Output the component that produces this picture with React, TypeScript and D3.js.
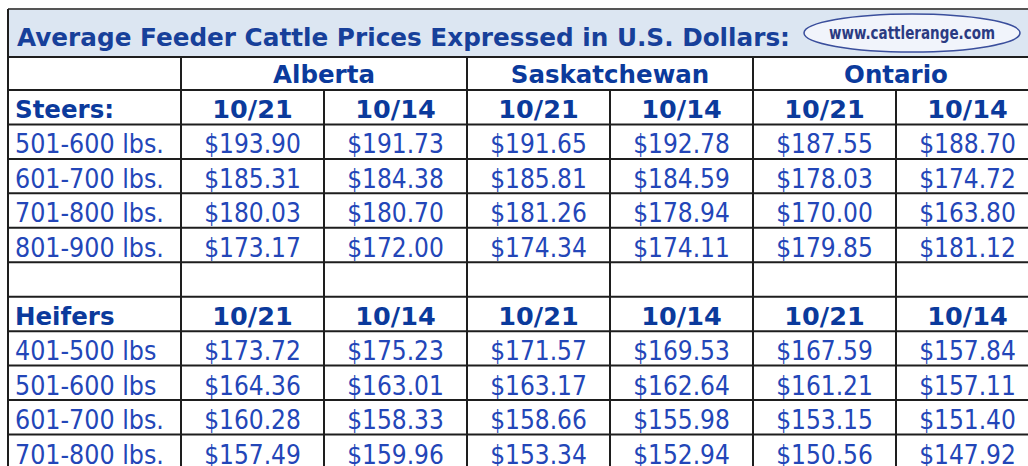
import React, { useEffect, useRef } from 'react';
import * as d3 from 'd3';

const title = 'Average Feeder Cattle Prices Expressed in U.S. Dollars:';
const logoText = 'www.cattlerange.com';
const provinces = ['Alberta', 'Saskatchewan', 'Ontario'];
const weeks = ['10/21', '10/14'];

const steerLabel = 'Steers:';
const steerWeights = ['501-600 lbs.', '601-700 lbs.', '701-800 lbs.', '801-900 lbs.'];
const steerPrices = [
  [193.90, 191.73, 191.65, 192.78, 187.55, 188.70],
  [185.31, 184.38, 185.81, 184.59, 178.03, 174.72],
  [180.03, 180.70, 181.26, 178.94, 170.00, 163.80],
  [173.17, 172.00, 174.34, 174.11, 179.85, 181.12],
];

const heiferLabel = 'Heifers';
const heiferWeights = ['401-500 lbs', '501-600 lbs', '601-700 lbs.', '701-800 lbs.'];
const heiferPrices = [
  [173.72, 175.23, 171.57, 169.53, 167.59, 157.84],
  [164.36, 163.01, 163.17, 162.64, 161.21, 157.11],
  [160.28, 158.33, 158.66, 155.98, 153.15, 151.40],
  [157.49, 159.96, 153.34, 152.94, 150.56, 147.92],
];

const W = 1028;
const H = 466;
const FONT = "'DejaVu Sans Condensed', 'DejaVu Sans', Verdana, sans-serif";
const BOLD_FONT = "'DejaVu Sans', Verdana, sans-serif";
const BOLD_BLUE = '#0b3a9c';
const VALUE_BLUE = '#2346b8';

const App = () => {
  const ref = useRef<SVGSVGElement>(null);

  useEffect(() => {
    const svg = d3.select(ref.current);
    svg.selectAll('*').remove();

    // rows: steers header, 4 steers, blank, heifers header, 4 heifers
    type Row = { kind: 'head' | 'val' | 'blank'; label: string; values?: number[] };
    const rows: Row[] = [
      { kind: 'head', label: steerLabel },
      ...steerWeights.map((w, i) => ({ kind: 'val' as const, label: w, values: steerPrices[i] })),
      { kind: 'blank', label: '' },
      { kind: 'head', label: heiferLabel },
      ...heiferWeights.map((w, i) => ({ kind: 'val' as const, label: w, values: heiferPrices[i] })),
    ];

    const left = 8;
    const right = 1039;
    const top = 9;
    const titleBottom = 57;
    const provBottom = 90;
    const labelRight = 181;

    const y = d3.scaleBand<number>()
      .domain(d3.range(rows.length))
      .range([provBottom, provBottom + 34.45 * rows.length]);

    const x = d3.scaleBand<number>()
      .domain(d3.range(provinces.length * weeks.length))
      .range([labelRight, right]);

    const xp = d3.scaleBand<string>()
      .domain(provinces)
      .range([labelRight, right]);

    // title band
    svg.append('rect')
      .attr('x', left).attr('y', top)
      .attr('width', right - left).attr('height', titleBottom - top)
      .attr('fill', '#dce6f2');

    svg.append('text')
      .attr('x', 17).attr('y', 46)
      .attr('font-family', BOLD_FONT)
      .attr('font-weight', 'bold')
      .attr('font-size', 25)
      .attr('fill', '#17409a')
      .attr('textLength', 773)
      .attr('lengthAdjust', 'spacingAndGlyphs')
      .text(title);

    // logo
    const logo = svg.append('g').attr('transform', 'translate(912,33)');
    logo.append('ellipse')
      .attr('rx', 108).attr('ry', 19)
      .attr('fill', '#f1f4fb')
      .attr('stroke', '#3a4e9c')
      .attr('stroke-width', 1.5);
    logo.append('text')
      .attr('y', 6)
      .attr('text-anchor', 'middle')
      .attr('font-family', FONT)
      .attr('font-weight', 'bold')
      .attr('font-size', 18)
      .attr('fill', '#2b3b82')
      .attr('textLength', 166)
      .attr('lengthAdjust', 'spacingAndGlyphs')
      .text(logoText);

    // province headers
    svg.selectAll('.prov')
      .data(provinces)
      .enter()
      .append('text')
      .attr('class', 'prov')
      .attr('x', d => (xp(d) as number) + xp.bandwidth() / 2)
      .attr('y', 83)
      .attr('text-anchor', 'middle')
      .attr('font-family', BOLD_FONT)
      .attr('font-weight', 'bold')
      .attr('font-size', 24.5)
      .attr('fill', BOLD_BLUE)
      .text(d => d);

    const rowG = svg.selectAll('.row')
      .data(rows)
      .enter()
      .append('g')
      .attr('class', 'row')
      .attr('transform', (_, i) => `translate(0,${y(i)})`);

    // row labels
    rowG.append('text')
      .attr('x', 15)
      .attr('y', d => (d.kind === 'head' ? 28 : 29))
      .attr('font-family', d => (d.kind === 'head' ? BOLD_FONT : FONT))
      .attr('font-weight', d => (d.kind === 'head' ? 'bold' : 'normal'))
      .attr('font-size', d => (d.kind === 'head' ? 24.5 : 26.5))
      .attr('fill', d => (d.kind === 'head' ? BOLD_BLUE : VALUE_BLUE))
      .text(d => d.label);

    // cells
    rowG.each(function (d) {
      if (d.kind === 'blank') return;
      const g = d3.select(this);
      const cells = d.kind === 'head'
        ? d3.range(x.domain().length).map(i => weeks[i % weeks.length])
        : (d.values as number[]).map(v => '$' + d3.format('.2f')(v));
      g.selectAll('.cell')
        .data(cells)
        .enter()
        .append('text')
        .attr('class', 'cell')
        .attr('x', (_, i) => (x(i) as number) + x.bandwidth() / 2)
        .attr('y', d.kind === 'head' ? 28 : 29)
        .attr('text-anchor', 'middle')
        .attr('font-family', d.kind === 'head' ? BOLD_FONT : FONT)
        .attr('font-weight', d.kind === 'head' ? 'bold' : 'normal')
        .attr('font-size', d.kind === 'head' ? 25.5 : 26)
        .attr('fill', d.kind === 'head' ? BOLD_BLUE : VALUE_BLUE)
        .text(c => c);
    });

    // grid lines
    const bottom = y.range()[1];
    const grid = svg.append('g')
      .attr('stroke', '#1e1e1e')
      .attr('stroke-width', 2)
      .attr('fill', 'none');

    const hLines = [titleBottom, provBottom, ...d3.range(1, rows.length + 1).map(i => y(i - 1)! + y.step())];
    grid.selectAll('.h')
      .data(hLines)
      .enter()
      .append('line')
      .attr('x1', left).attr('x2', right)
      .attr('y1', d => d).attr('y2', d => d);

    // outer frame (title top slightly grey)
    grid.append('line')
      .attr('x1', left).attr('x2', right)
      .attr('y1', top).attr('y2', top)
      .attr('stroke', '#555');
    grid.append('line')
      .attr('x1', left).attr('x2', left)
      .attr('y1', top).attr('y2', bottom);

    // vertical lines: label edge + province edges from title bottom, week separators from province row
    const provEdges = [labelRight, ...provinces.slice(1).map(p => xp(p) as number)];
    grid.selectAll('.vp')
      .data(provEdges)
      .enter()
      .append('line')
      .attr('x1', d => d).attr('x2', d => d)
      .attr('y1', titleBottom).attr('y2', bottom);

    const weekEdges = provinces.map(p => (xp(p) as number) + xp.bandwidth() / 2);
    grid.selectAll('.vw')
      .data(weekEdges)
      .enter()
      .append('line')
      .attr('x1', d => d).attr('x2', d => d)
      .attr('y1', provBottom).attr('y2', bottom);
  }, []);

  return (
    <svg
      ref={ref}
      width={W}
      height={H}
      style={{ position: 'absolute', left: 0, top: 0, display: 'block', background: '#fff' }}
    />
  );
};

export default App;
